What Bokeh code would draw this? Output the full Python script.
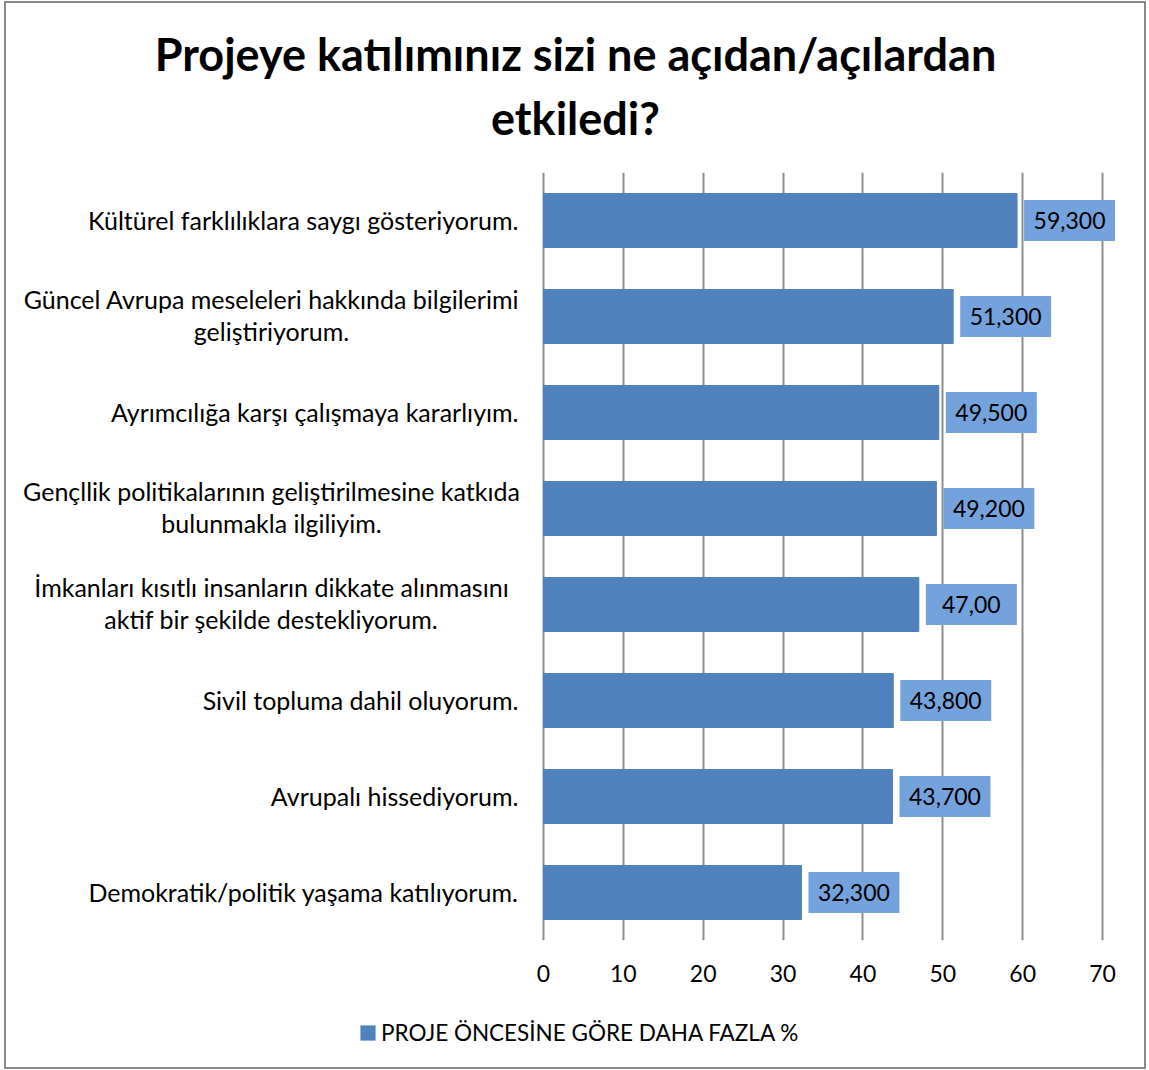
from bokeh.plotting import figure
from bokeh.models import (Range1d, FixedTicker, ColumnDataSource, Legend, LegendItem)
from bokeh.layouts import column, row
from bokeh.core.properties import value
from bokeh.transform import dodge
from bokeh.embed import file_html
from bokeh.resources import INLINE

# ---- data ----
category_lines = [
    ["Kültürel farklılıklara saygı gösteriyorum."],
    ["Güncel Avrupa meseleleri hakkında bilgilerimi", "geliştiriyorum."],
    ["Ayrımcılığa karşı çalışmaya kararlıyım."],
    ["Gençllik politikalarının geliştirilmesine katkıda", "bulunmakla ilgiliyim."],
    ["İmkanları kısıtlı insanların dikkate alınmasını", "aktif bir şekilde destekliyorum."],
    ["Sivil topluma dahil oluyorum."],
    ["Avrupalı hissediyorum."],
    ["Demokratik/politik yaşama katılıyorum."],
]
values = [59.3, 51.3, 49.5, 49.2, 47.0, 43.8, 43.7, 32.3]
value_labels = ["59,300", "51,300", "49,500", "49,200", "47,00", "43,800", "43,700", "32,300"]
x_ticks = [0, 10, 20, 30, 40, 50, 60, 70]
series_name = "PROJE ÖNCESİNE GÖRE DAHA FAZLA %"
title_lines = ["Projeye katılımınız sizi ne açıdan/açılardan", "etkiledi?"]

FONT = "Lato"
BAR = "#4F81BD"
BOX = "#73A2DC"
GRID = "#8e8e8e"

n = len(values)
ys = [n - 1 - i for i in range(n)]
y_range = Range1d(-0.5, n - 0.5)

def blank(fig):
    fig.outline_line_color = None
    fig.grid.visible = False
    fig.min_border = 0
    return fig

# ---- title ----
tf = blank(figure(width=1138, height=169, x_range=Range1d(0, 1138), y_range=Range1d(169, 0),
                  x_axis_location=None, y_axis_location=None,
                  output_backend="svg", toolbar_location=None))
tf.text(x=[569, 569], y=[50, 114], text=title_lines, text_align=value("center"),
        text_baseline=value("alphabetic"), text_font=value(FONT), text_font_size=value("45px"),
        text_font_style=value("bold"), text_color="black")

# ---- category labels ----
lx, ly, lt, lo, la = [], [], [], [], []
for y, lines in zip(ys, category_lines):
    if len(lines) == 1:
        lx.append(512); ly.append(y); lt.append(lines[0]); lo.append(-1); la.append("right")
    else:
        for k, line in enumerate(lines):
            lx.append(265); ly.append(y); lt.append(line); lo.append(-18 + 32 * k); la.append("center")
lf = blank(figure(width=515, height=819, x_range=Range1d(0, 515), y_range=y_range,
                  x_axis_location=None, y_axis_location=None,
                  output_backend="svg", toolbar_location=None))
lf.min_border_bottom = 51
lsrc = ColumnDataSource(dict(x=lx, y=ly, t=lt, o=lo, a=la))
lf.text(x="x", y="y", text="t", y_offset="o", text_align="a", source=lsrc,
        text_baseline=value("middle"), text_font=value(FONT), text_font_size=value("25px"),
        text_color="black")

# ---- main chart ----
p = figure(width=623, height=819, x_range=Range1d(-2.755, 75.26), y_range=y_range,
           y_axis_location=None, output_backend="svg", toolbar_location=None)
p.outline_line_color = None
p.min_border_left = 0
p.min_border_right = 0
p.min_border_top = 0
p.min_border_bottom = 51
p.ygrid.visible = False
p.xaxis.ticker = FixedTicker(ticks=x_ticks)
p.xaxis.axis_line_color = None
p.xaxis.major_tick_line_color = None
p.xaxis.minor_tick_line_color = None
p.xaxis.major_label_standoff = 18
p.xaxis.major_label_text_font = FONT
p.xaxis.major_label_text_font_size = "23px"
p.xaxis.major_label_text_color = "black"
p.xgrid.ticker = FixedTicker(ticks=x_ticks)
p.xgrid.grid_line_color = GRID
p.xgrid.grid_line_width = 2

src = ColumnDataSource(dict(y=ys, v=values, lab=value_labels))
p.hbar(y="y", right="v", left=0, height=0.5625, source=src, fill_color=BAR, line_color=BAR)
p.hbar(y="y", left=dodge("v", 0.88), right=dodge("v", 12.27), height=0.427, source=src,
       fill_color=BOX, line_color=None)
p.text(x=dodge("v", 6.57), y="y", text="lab", source=src, text_align=value("center"),
       text_baseline=value("middle"), text_font=value(FONT), text_font_size=value("23px"),
       text_color="black")

# ---- legend ----
bf = blank(figure(width=1138, height=76, x_range=Range1d(0, 1138), y_range=Range1d(0, 76),
                  x_axis_location=None, y_axis_location=None,
                  output_backend="svg", toolbar_location=None))
lr = bf.hbar(y=[0], right=[0], left=0, height=0, fill_color=BAR, line_color=None)
legend = Legend(items=[LegendItem(label=series_name, renderers=[lr])], location=(352, 21),
                orientation="horizontal", label_text_font=FONT, label_text_font_size="22.5px",
                label_text_color="black", glyph_width=19, glyph_height=19, border_line_color=None,
                background_fill_alpha=0, padding=0, margin=0, spacing=0, label_standoff=4)
bf.add_layout(legend)

layout = column(tf, row(lf, p), bf)
layout.styles = {"border": "2px solid #8a8a8a", "margin-left": "4px", "margin-top": "1px"}

open("out.html", "w").write(file_html(layout, INLINE))
